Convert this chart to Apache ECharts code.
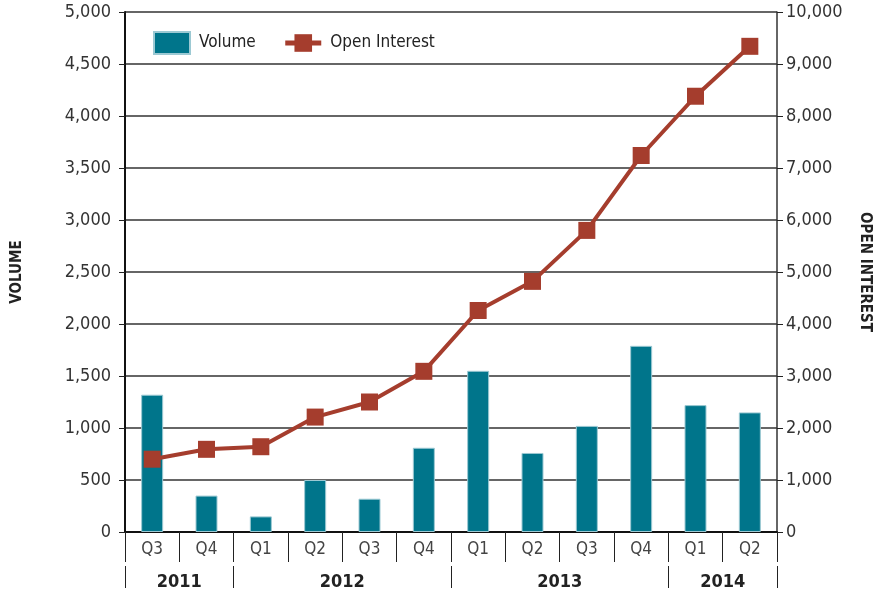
<!DOCTYPE html>
<html>
<head>
<meta charset="utf-8">
<script src="https://cdn.jsdelivr.net/npm/echarts@6/dist/echarts.min.js"></script>
<style>
  html, body { margin: 0; padding: 0; background: #fff; }
  #chart { width: 876px; height: 594px; }
</style>
</head>
<body>
<div id="chart"></div>
<script>
// quarter labels along the bottom, years under them
var quarters = ['Q3', 'Q4', 'Q1', 'Q2', 'Q3', 'Q4', 'Q1', 'Q2', 'Q3', 'Q4', 'Q1', 'Q2']
var years = ['2011', '2012', '2013', '2014']
var yearSpans = [2, 4, 4, 2]

var volume = [1320, 350, 150, 500, 320, 810, 1550, 760, 1020, 1790, 1220, 1150]
var openInterest = [1400, 1590, 1640, 2210, 2500, 3090, 4260, 4820, 5800, 7240, 8380, 9340]

var font = '"DejaVu Sans Condensed", "Liberation Sans Narrow", sans-serif'
var barColor = '#00758b'
var lineColor = '#a53d2d'

// year group boundaries and label centres (in category units)
var yearBounds = [0]
var yearCenters = []
yearSpans.forEach(function (s, i) {
  var start = yearBounds[i]
  yearBounds.push(start + s)
  yearCenters.push(start + s / 2)
})

var chart = echarts.init(document.getElementById('chart'))
chart.setOption({
  animation: false,
  textStyle: { fontFamily: font },
  grid: { left: 125, right: 99, top: 12, bottom: 62, outerBoundsMode: 'none', containLabel: false },
  legend: {
    left: 148,
    top: 26,
    itemGap: 27,
    itemWidth: 36,
    itemHeight: 22,
    textStyle: { fontFamily: font, fontSize: 17, color: '#222', padding: [0, 0, 0, 4] },
    data: [
      { name: 'Volume', icon: 'rect' },
      { name: 'Open Interest', lineStyle: { width: 5, color: lineColor } }
    ]
  },
  xAxis: [
    {
      type: 'category',
      data: quarters,
      boundaryGap: true,
      axisLine: { lineStyle: { color: '#111', width: 2 } },
      axisTick: { show: true, interval: 0, length: 30, lineStyle: { color: '#222', width: 1 } },
      axisLabel: { interval: 0, margin: 9, fontSize: 17, color: '#444' },
      splitLine: { show: false }
    },
    {
      // year labels, centred under their quarters
      type: 'value',
      position: 'bottom',
      offset: 34,
      min: 0,
      max: quarters.length,
      axisLine: { show: false },
      axisTick: { show: false },
      axisLabel: {
        customValues: yearCenters,
        margin: 7,
        fontSize: 18,
        fontWeight: 'bold',
        color: '#222',
        formatter: function (v) {
          var i = yearCenters.indexOf(v)
          return i >= 0 ? years[i] : ''
        }
      },
      splitLine: { show: false }
    },
    {
      // year separators
      type: 'category',
      data: quarters,
      position: 'bottom',
      offset: 34,
      boundaryGap: true,
      axisLine: { show: false },
      axisLabel: { show: false },
      axisTick: {
        show: true,
        length: 22,
        interval: function (i) { return yearBounds.indexOf(i) >= 0 },
        lineStyle: { color: '#222', width: 1 }
      },
      splitLine: { show: false }
    }
  ],
  yAxis: [
    {
      type: 'value',
      min: 0,
      max: 5000,
      interval: 500,
      name: 'VOLUME',
      nameLocation: 'middle',
      nameRotate: 90,
      nameGap: 100,
      nameTextStyle: { fontFamily: font, fontSize: 15, fontWeight: 'bold', color: '#222' },
      axisLine: { show: true, lineStyle: { color: '#111', width: 2 } },
      axisTick: { show: true, length: 6, lineStyle: { color: '#222' } },
      axisLabel: {
        margin: 14,
        fontSize: 18,
        color: '#333',
        formatter: function (v) { return v.toLocaleString('en-US') }
      },
      splitLine: { show: true, lineStyle: { color: '#333', width: 1.5 } }
    },
    {
      type: 'value',
      min: 0,
      max: 10000,
      interval: 1000,
      name: 'OPEN INTEREST',
      nameLocation: 'middle',
      nameRotate: -90,
      nameGap: 80,
      nameTextStyle: { fontFamily: font, fontSize: 15, fontWeight: 'bold', color: '#222' },
      axisLine: { show: true, lineStyle: { color: '#333', width: 1.5 } },
      axisTick: { show: true, length: 6, lineStyle: { color: '#222' } },
      axisLabel: {
        margin: 9,
        fontSize: 18,
        color: '#333',
        formatter: function (v) { return v.toLocaleString('en-US') }
      },
      splitLine: { show: false }
    }
  ],
  series: [
    {
      name: 'Volume',
      type: 'bar',
      yAxisIndex: 0,
      data: volume,
      barWidth: 22,
      itemStyle: { color: barColor, borderColor: '#9cc9d3', borderWidth: 1 }
    },
    {
      name: 'Open Interest',
      type: 'line',
      yAxisIndex: 1,
      data: openInterest,
      symbol: 'rect',
      symbolSize: 17,
      lineStyle: { color: lineColor, width: 4 },
      itemStyle: { color: lineColor }
    }
  ]
})
</script>
</body>
</html>
